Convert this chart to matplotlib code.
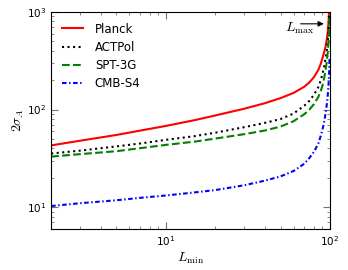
import numpy as np
import matplotlib
matplotlib.use('Agg')
import matplotlib.pyplot as plt

plt.rcParams['mathtext.fontset'] = 'cm'

# valores (L_min e 2 sigma_A)
L_min = [2, 3, 5, 7, 10, 15, 20, 30, 40, 50, 60, 70, 75, 80, 85, 88, 90, 92, 94, 95,
    96, 97, 98, 98.5, 99, 99.5]
planck = [43, 48, 55, 61, 68, 78, 87, 102, 116, 131, 148, 172, 190, 215, 255, 295, 335,
    380, 440, 485, 540, 625, 765, 880, 1075, 1500]
actpol = [35.5, 38, 42, 45, 49, 53.5, 58, 66, 73, 80, 91, 110, 123, 142, 170, 200, 230,
    270, 330, 370, 420, 500, 610, 710, 880, 1240]
spt3g = [33, 35, 37.5, 40.3, 43.5, 47, 50.5, 56, 61, 67, 76, 90, 100, 114, 135, 155, 175,
    205, 250, 285, 325, 385, 470, 540, 660, 930]
cmbs4 = [10.3, 11, 11.8, 12.5, 13.2, 14.2, 15, 16.8, 18.7, 20.7, 23.5, 28, 32, 37, 45, 54,
    62, 73, 90, 102, 117, 140, 175, 205, 250, 350]

fig = plt.figure(figsize=(3.48, 2.70), dpi=100)
ax = fig.add_axes([0.147, 0.152, 0.801, 0.804])

ax.plot(L_min, planck, color='r', ls='-', lw=1.5, label='Planck')
ax.plot(L_min, actpol, color='k', ls=':', lw=1.5, label='ACTPol')
ax.plot(L_min, spt3g, color='g', ls='--', lw=1.5, label='SPT-3G')
ax.plot(L_min, cmbs4, color='b', ls=(0, (2.2, 1.2, 0.7, 1.2)), lw=1.5, label='CMB-S4')

ax.set_xscale('log')
ax.set_yscale('log')
ax.set_xlim(2, 100)
ax.set_ylim(6, 1000)

ax.set_xlabel(r'$L_{\rm min}$', fontsize=10, labelpad=2)
ax.set_ylabel(r'$2\sigma_A$', fontsize=10, labelpad=1)

ax.tick_params(which='both', direction='in', top=True, right=True, color='0.45', labelsize=7.5)
ax.tick_params(which='major', length=5, width=0.8)
ax.tick_params(which='minor', length=2.5, width=0.6)

ax.legend(loc='upper left', frameon=False, fontsize=8.5, handlelength=1.8,
    handletextpad=1.0, labelspacing=0.45, borderaxespad=0.5)

# seta do L_max
ax.annotate('', xy=(0.988, 0.945), xytext=(0.885, 0.945), xycoords='axes fraction',
    arrowprops=dict(arrowstyle='-|>', color='k', lw=0.8, mutation_scale=8))
ax.text(0.84, 0.925, r'$L_{\rm max}$', transform=ax.transAxes, fontsize=10, ha='left', va='center')

fig.savefig('out.png', dpi=100)
